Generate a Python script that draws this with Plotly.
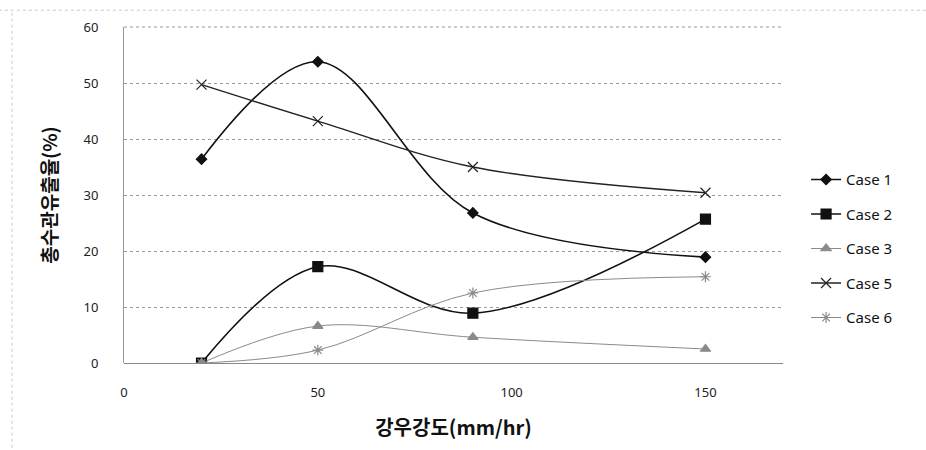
import plotly.graph_objects as go

# Rainfall intensity (mm/hr) and outflow ratio (%) for each case
rain_intensity = [20, 50, 90, 150]
case1 = [36.4, 53.8, 26.8, 18.9]
case2 = [0.0, 17.2, 8.9, 25.7]
case3 = [0.0, 6.6, 4.6, 2.5]
case5 = [49.7, 43.2, 35.0, 30.4]
case6 = [0.0, 2.3, 12.5, 15.4]

series = [
    ("Case 1", case1, "diamond", 8, "#111111", 1.6),
    ("Case 2", case2, "square", 10, "#111111", 1.6),
    ("Case 3", case3, "triangle-up", 9, "#8a8a8a", 1.0),
    ("Case 5", case5, "x-thin", 10, "#222222", 1.4),
    ("Case 6", case6, "asterisk", 9, "#8a8a8a", 1.0),
]

fig = go.Figure()
for i, (name, vals, sym, size, color, lw) in enumerate(series):
    fig.add_trace(go.Scatter(
        x=rain_intensity, y=vals, name=name, legendgroup=f"g{i}",
        mode="lines+markers",
        line=dict(color=color, width=lw, shape="spline", smoothing=1.0),
        marker=dict(symbol=sym, size=size, color=color,
                    line=dict(color=color, width=1.2)),
    ))

tick_font = dict(family="Noto Sans, sans-serif", size=13, color="#222222")
title_font = dict(family="Noto Sans CJK KR, sans-serif", color="#111111", weight="bold")

fig.update_layout(
    width=926, height=450,
    margin=dict(l=124, r=143, t=27, b=87),
    paper_bgcolor="white", plot_bgcolor="white",
    showlegend=True,
    legend=dict(
        x=1.035, y=0.34, xanchor="left", yanchor="middle",
        font=dict(family="Noto Sans, sans-serif", size=15, color="#111111"),
        tracegroupgap=12, traceorder="grouped",
        bgcolor="rgba(0,0,0,0)",
    ),
    xaxis=dict(
        range=[0, 170], tickvals=[0, 50, 100, 150],
        showgrid=False, zeroline=False, showline=False,
        ticks="", ticklabelstandoff=20, tickfont=tick_font,
        title=dict(text="강우강도(mm/hr)", font=dict(title_font, size=20), standoff=20),
    ),
    yaxis=dict(
        range=[0, 60], dtick=10,
        showgrid=True, gridcolor="#9a9a9a", gridwidth=1, griddash="dot",
        zeroline=True, zerolinecolor="#8a8a8a", zerolinewidth=1,
        showline=True, linecolor="#9a9a9a", linewidth=1,
        ticks="", ticklabelstandoff=22, tickfont=tick_font,
        title=dict(text="총수관유출율(%)", font=dict(title_font, size=19), standoff=20),
    ),
)

# Top edge of the plot area (the 60 % gridline)
fig.add_shape(type="line", xref="paper", yref="paper", x0=0, x1=1, y0=1, y1=1,
              line=dict(color="#9a9a9a", width=1, dash="dot"))

# Faint outer chart frame
fig.add_shape(type="line", xref="paper", yref="paper", x0=-0.19, x1=1.22, y0=1.05, y1=1.05,
              line=dict(color="#c8c8c8", width=1, dash="dot"))
fig.add_shape(type="line", xref="paper", yref="paper", x0=-0.17, x1=-0.17, y0=-0.27, y1=1.05,
              line=dict(color="#c8c8c8", width=1, dash="dot"))

fig.write_html("out.html")
